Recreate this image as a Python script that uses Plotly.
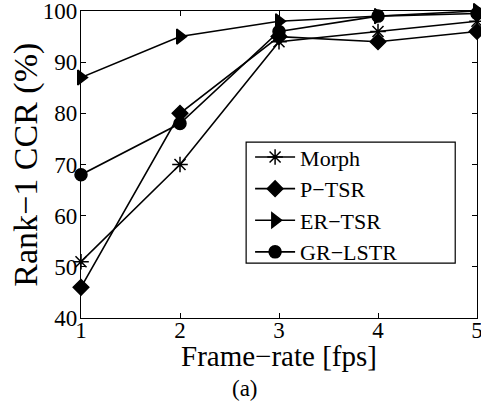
import plotly.graph_objects as go

frame_rate = [1, 2, 3, 4, 5]
morph = [51, 70, 94, 96, 98]
p_tsr = [46, 80, 95, 94, 96]
er_tsr = [87, 95, 98, 99, 100]
gr_lstr = [68, 78, 96, 99, 99.5]

series = [
    ("Morph", morph, "asterisk-open", 13),
    ("P\u2212TSR", p_tsr, "diamond", 12),
    ("ER\u2212TSR", er_tsr, "triangle-right", 13),
    ("GR\u2212LSTR", gr_lstr, "circle", 12),
]

font = "Liberation Serif"

fig = go.Figure()
for name, vals, sym, size in series:
    fig.add_trace(go.Scatter(
        x=frame_rate, y=vals, name=name, mode="lines+markers",
        line=dict(color="black", width=1.6),
        marker=dict(symbol=sym, size=size, color="black",
                    line=dict(color="black", width=1.5)),
        cliponaxis=False,
    ))

axis_common = dict(
    showline=True, linecolor="black", linewidth=1.2, mirror="ticks",
    ticks="inside", ticklen=5, tickcolor="black", tickwidth=1,
    showgrid=False, zeroline=False, ticklabeloverflow="allow",
    automargin=False,
    tickfont=dict(family=font, size=23, color="black"),
)

fig.update_layout(
    width=481, height=420,
    margin=dict(l=81, r=4, t=11, b=102),
    paper_bgcolor="white", plot_bgcolor="white",
    font=dict(family=font, color="black"),
    xaxis=dict(range=[1, 5], tickvals=frame_rate, **axis_common,
               ticklabelstandoff=-9),
    yaxis=dict(range=[40, 100], tickvals=[40, 50, 60, 70, 80, 90, 100],
               **axis_common, ticklabelstandoff=-2),
    legend=dict(x=0.427, y=0.592, xanchor="left", yanchor="top",
                bgcolor="rgba(0,0,0,0)", borderwidth=0,
                font=dict(family=font, size=22), itemwidth=40,
                tracegroupgap=0),
    showlegend=True,
    # white legend frame drawn over the lines
    shapes=[dict(type="rect", xref="paper", yref="paper", layer="above",
                 x0=0.417, x1=0.945, y0=0.179, y1=0.573,
                 fillcolor="white", line=dict(color="black", width=1.2))],
    annotations=[
        dict(text="Frame\u2212rate [fps]", xref="paper", yref="paper",
             x=0.5, y=-0.125, xanchor="center", yanchor="middle",
             showarrow=False, font=dict(family=font, size=29)),
        dict(text="Rank\u22121 CCR (%)", xref="paper", yref="paper",
             x=-0.141, y=0.5, xanchor="center", yanchor="middle",
             textangle=-90, showarrow=False, font=dict(family=font, size=34)),
        dict(text="(a)", xref="paper", yref="paper",
             x=0.414, y=-0.23, xanchor="center", yanchor="middle",
             showarrow=False, font=dict(family=font, size=23)),
    ],
)

fig.write_html("out.html")
